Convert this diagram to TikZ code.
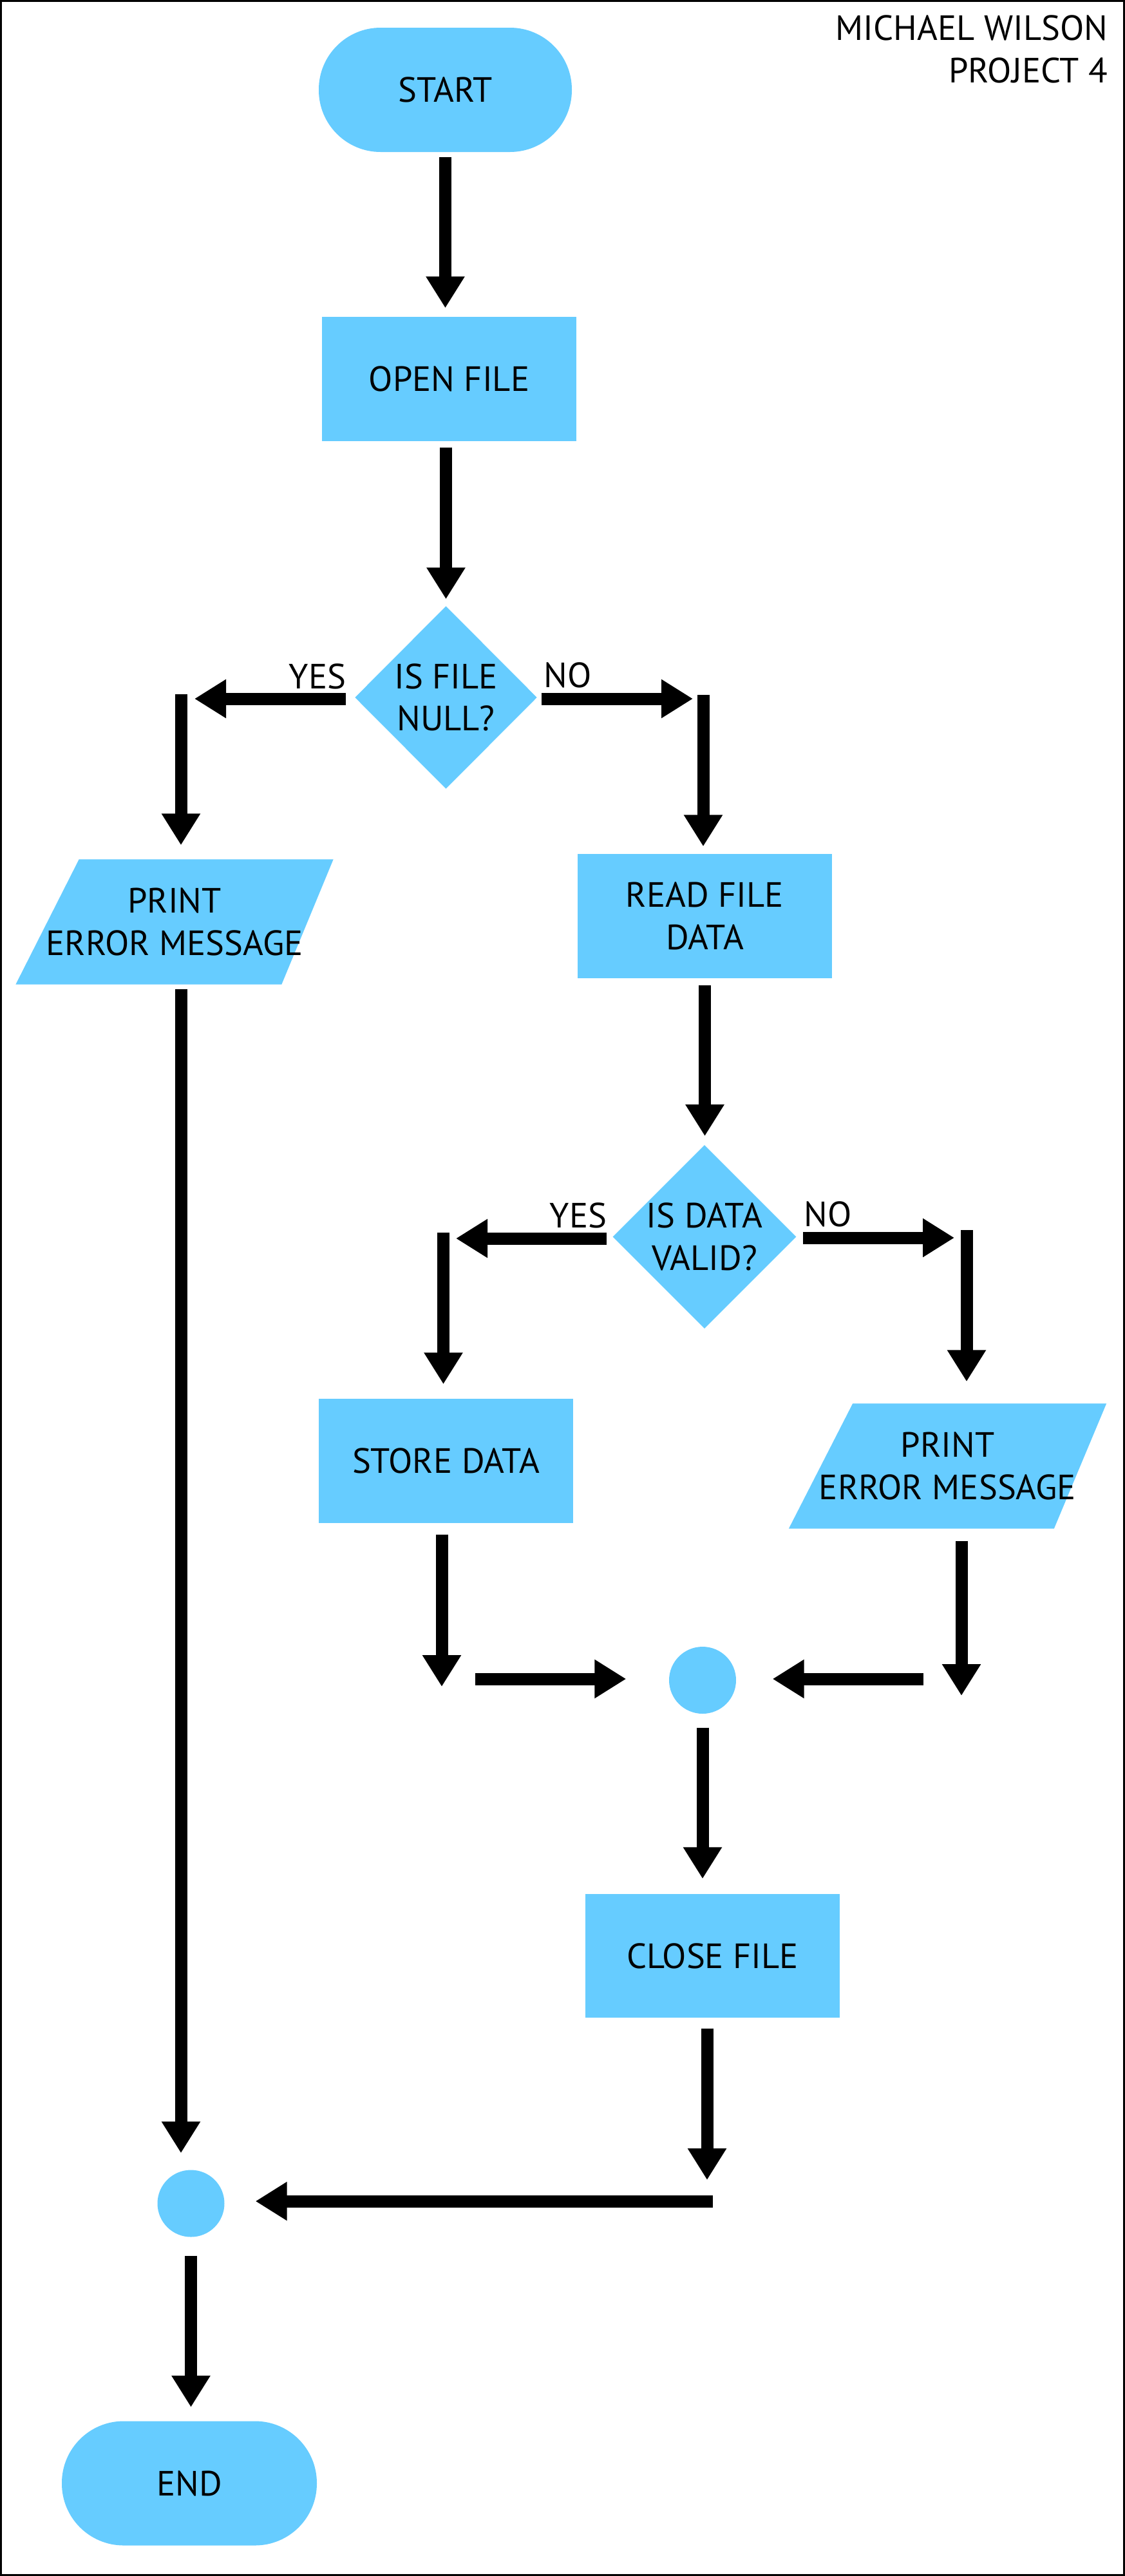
\documentclass[tikz,border=0pt]{standalone}
\usepackage{fontspec}
\setmainfont{PT Sans}
\usepackage{xcolor}
\definecolor{flowblue}{HTML}{66CCFF}
\usetikzlibrary{arrows.meta}
\usetikzlibrary{calc}
\usetikzlibrary{shapes.geometric}
\usetikzlibrary{backgrounds}

\begin{document}
\begin{tikzpicture}[
    every node/.style={font=\fontsize{15.5}{18.7}\selectfont},
    box/.style={fill=flowblue, inner sep=0pt, align=center, minimum width=3.95cm, minimum height=1.93cm},
    term/.style={box, rounded corners=0.96cm, minimum width=3.93cm},
    decision/.style={diamond, aspect=1, fill=flowblue, inner sep=0pt, align=center, minimum width=2.83cm, minimum height=2.83cm},
    io/.style={inner sep=0pt, align=center, minimum width=4.92cm, minimum height=1.93cm},
    joint/.style={circle, fill=flowblue, inner sep=0pt, minimum size=1.04cm},
    arr/.style={line width=0.19cm, -{Triangle[length=0.49cm, width=0.57cm]}},
    lbl/.style={inner sep=0pt}
  ]
    \useasboundingbox (0,0) rectangle (17.47,-40);
    \draw [line width=0.03cm] (0.015,-0.015) rectangle (17.455,-39.985);

    \node [lbl, anchor=north east, align=right] (author) at (17.21,-0.23) {MICHAEL WILSON\\PROJECT 4};

    \node [term] (start) at (6.915,-1.395) {START};
    \node [box] (open) at (6.975,-5.885) {OPEN FILE};
    \node [decision, minimum height=2.84cm] (isnull) at (6.925,-10.83) {IS FILE\\NULL?};
    \node [io] (printA) at (2.71,-14.315) {PRINT\\ERROR MESSAGE};
    \node [box] (read) at (10.945,-14.225) {READ FILE\\DATA};
    \node [decision, minimum width=2.82cm] (isvalid) at (10.94,-19.205) {IS DATA\\VALID?};
    \node [box] (store) at (6.925,-22.68) {STORE DATA};
    \node [io] (printB) at (14.715,-22.765) {PRINT\\ERROR MESSAGE};
    \node [joint] (joinA) at (10.91,-26.09) {};
    \node [box, minimum height=1.92cm] (close) at (11.065,-30.37) {CLOSE FILE};
    \node [joint] (joinB) at (2.965,-34.215) {};
    \node [term, minimum width=3.96cm] (stop) at (2.94,-38.56) {END};

    \begin{scope}[on background layer]
      \fill [flowblue] (printA.south west) -- ++(4.13,0) -- (printA.north east) -- ++(-3.95,0) -- cycle;
      \fill [flowblue] (printB.south west) -- ++(4.12,0) -- (printB.north east) -- ++(-3.94,0) -- cycle;
    \end{scope}

    \coordinate (yes1) at (2.81,-10.85);
    \coordinate (no1) at (10.92,-10.85);
    \coordinate (yes2) at (6.885,-19.23);
    \coordinate (no2) at (15.01,-19.22);
    \coordinate (merge1) at (6.86,-26.07);
    \coordinate (merge2) at (14.93,-26.07);
    \coordinate (merge3) at (10.98,-34.18);

    \node [lbl, anchor=base east] (yesA) at (5.38,-10.69) {YES};
    \node [lbl, anchor=base west] (noA) at (8.44,-10.67) {NO};
    \node [lbl, anchor=base east] (yesB) at (9.43,-19.06) {YES};
    \node [lbl, anchor=base west] (noB) at (12.48,-19.04) {NO};

    \draw [arr, shorten <=0.075cm, shorten >=0.13cm] (start.south) -- (start.south |- open.north);
    \draw [arr, shorten <=0.09cm, shorten >=0.10cm] (open.south -| isnull.north) -- (isnull.north);

    \draw [arr, shorten <=0.13cm, shorten >=0.21cm] (isnull.west |- yes1) -- (yes1);
    \draw [arr, shorten <=-0.07cm, shorten >=0.22cm] (yes1) -- (yes1 |- printA.north);
    \draw [arr, shorten <=0.06cm, shorten >=0.16cm] (isnull.east |- no1) -- (no1);
    \draw [arr, shorten <=-0.06cm, shorten >=0.11cm] (no1) -- (no1 |- read.north);
    \draw [arr, shorten <=0.07cm, shorten >=0.255cm] (yes1 |- printA.south) -- (yes1 |- joinB.north);

    \draw [arr, shorten <=0.105cm, shorten >=0.13cm] (read.south) -- (read.south |- isvalid.north);
    \draw [arr, shorten <=0.09cm, shorten >=0.195cm] (isvalid.west |- yes2) -- (yes2);
    \draw [arr, shorten <=-0.09cm, shorten >=0.215cm] (yes2) -- (yes2 |- store.north);
    \draw [arr, shorten <=0.10cm, shorten >=0.19cm] (isvalid.east |- no2) -- (no2);
    \draw [arr, shorten <=-0.12cm, shorten >=0.34cm] (no2) -- (no2 |- printB.north);

    \draw [arr, shorten <=0.175cm] (merge1 |- store.south) -- ([yshift=-0.12cm]merge1);
    \draw [arr, shorten >=0.66cm] ([xshift=0.52cm]merge1) -- (joinA.west |- merge1);
    \draw [arr, shorten <=0.19cm] (merge2 |- printB.south) -- ([yshift=-0.26cm]merge2);
    \draw [arr, shorten >=0.56cm] ([xshift=-0.59cm]merge2) -- (joinA.east |- merge2);

    \draw [arr, shorten <=0.21cm, shorten >=0.23cm] (joinA.south) -- (joinA.south |- close.north);
    \draw [arr, shorten <=0.16cm] (merge3 |- close.south) -- ([yshift=0.33cm]merge3);
    \draw [arr, shorten >=0.475cm] ([xshift=0.09cm]merge3) -- (joinB.east |- merge3);
    \draw [arr, shorten <=0.285cm, shorten >=0.21cm] (joinB.south) -- (joinB.south |- stop.north);

  \end{tikzpicture}
\end{document}
